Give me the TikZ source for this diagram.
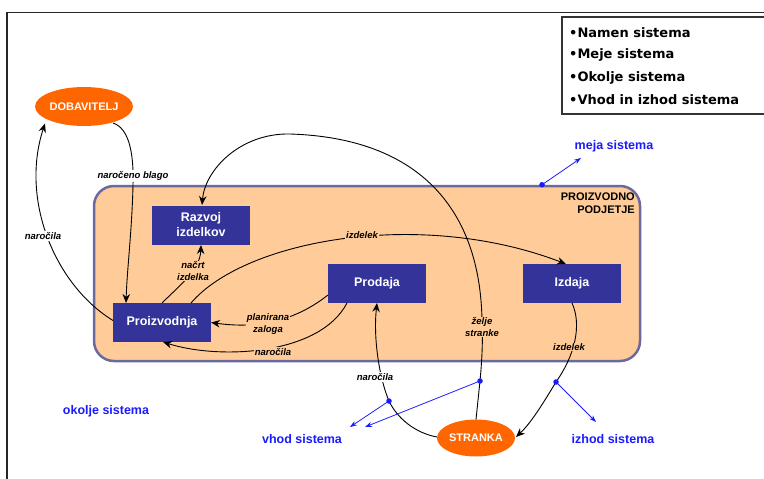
\documentclass[tikz,border=0pt]{standalone}
\usepackage{fontspec}
\setmainfont{Liberation Sans}
\newfontfamily\legfont{DejaVu Sans}
\usetikzlibrary{shapes.geometric,arrows.meta,calc}
\definecolor{peach}{HTML}{FFCC99}
\definecolor{rimcol}{HTML}{6A6AA0}
\definecolor{boxblue}{HTML}{333399}
\definecolor{orng}{HTML}{FF6600}
\definecolor{sysblue}{HTML}{1A1AFF}
\begin{document}
\begin{tikzpicture}[x=1pt,y=-1pt,
  bluebox/.style={fill=boxblue,text=white,font=\bfseries\fontsize{12.5}{15}\selectfont,
    minimum width=98pt,minimum height=39pt,inner sep=0pt,align=center},
  ovalnode/.style={ellipse,fill=orng,text=white,font=\bfseries\fontsize{11}{13}\selectfont,inner sep=0pt},
  lbl/.style={font=\bfseries\itshape\fontsize{9.5}{11.5}\selectfont,fill=peach,inner sep=1pt,align=center},
  lblw/.style={lbl,fill=white},
  syslbl/.style={text=sysblue,font=\bfseries\fontsize{12.5}{15}\selectfont,inner sep=0pt},
  legtext/.style={font=\legfont\bfseries\fontsize{13}{15}\selectfont,inner sep=0pt,anchor=west},
  arr/.style={line width=0.9pt,-{Stealth[length=9pt,width=7.5pt]}},
  barr/.style={draw=sysblue,line width=0.8pt,-{Stealth[length=7pt,width=5pt]}},
  bdot/.style={circle,fill=sysblue,inner sep=0pt,minimum size=5.5pt}]
\useasboundingbox (0,0) rectangle (764,479);
% frame
\draw[line width=1.6pt,black!85] (7,479) -- (7,12.5) -- (764,12.5);
% legend
\draw[line width=1.2pt,black!80] (562,17) rectangle (775,114);
\node[legtext] (l1) at (569,33) {•Namen sistema};
\node[legtext] (l2) at (569,55) {•Meje sistema};
\node[legtext] (l3) at (569,78) {•Okolje sistema};
\node[legtext] (l4) at (569,100) {•Vhod in izhod sistema};
% firm
\node[draw=rimcol,fill=peach,line width=2.5pt,rounded corners=20pt,
  minimum width=546pt,minimum height=175pt,inner sep=0pt] (firm) at (367,273.5) {};
\node[font=\bfseries\fontsize{11}{13}\selectfont,align=right,anchor=east,inner sep=0pt] (pp) at (635,203.5) {PROIZVODNO\\PODJETJE};
% boxes
\node[bluebox] (razvoj) at (201,225) {Razvoj\\izdelkov};
\node[bluebox] (proiz) at (162,322.5) {Proizvodnja};
\node[bluebox] (prodaja) at (377,283.5) {Prodaja};
\node[bluebox] (izdaja) at (572,283.5) {Izdaja};
\node[ovalnode,minimum width=98pt,minimum height=39pt] (dob) at (84,106.5) {DOBAVITELJ};
\node[ovalnode,minimum width=78pt,minimum height=37pt] (stranka) at (476,438) {STRANKA};
% connectors
\draw[arr] ($(proiz)+(-49,-2)$) .. controls (55,285) and (20,200) .. ($(dob)+(-39,17)$);
\draw[arr] ($(dob)+(29,16.5)$) .. controls (128,128) and (134,150) .. (133,185)
  .. controls (132,230) and (127,270) .. ($(proiz)+(-36,-19.5)$);
\draw[arr] ($(proiz)+(0,-19.5)$) .. controls (180,285) and (200,270) .. ($(razvoj)+(0,20)$);
\draw[arr] ($(proiz)+(29,-19.5)$) .. controls (245,240) and (420,208) .. ($(izdaja)+(-6,-19.5)$);
\draw[arr] ($(prodaja)+(-49,11.5)$) .. controls (290,325) and (250,328) .. ($(proiz)+(49,0)$);
\draw[arr] ($(prodaja)+(-30,19.5)$) .. controls (320,355) and (220,360) .. ($(proiz)+(1,19.5)$);
\draw[arr] ($(stranka)+(0,-18.5)$) -- (480,381) coordinate (d2)
  .. controls (482,360) and (483,340) .. (482,320)
  .. controls (480,210) and (420,138) .. (290,134)
  .. controls (240,133) and (205,170) .. ($(razvoj)+(1,-20)$);
\draw[arr] ($(izdaja)+(0,19.5)$) .. controls (582,325) and (575,355) .. (556,382) coordinate (d3)
  .. controls (545,400) and (532,422) .. ($(stranka)+(40,-1)$);
\draw[arr] ($(stranka)+(-39,-1)$) .. controls (415,433) and (397,418) .. (389,401) coordinate (d1)
  .. controls (380,380) and (373,340) .. ($(prodaja)+(0,19.5)$);
% system arrows
\coordinate (dm) at ($(firm.north)+(175,0)$);
\coordinate (mt) at (581,158);
\coordinate (v1) at (350,427);
\coordinate (v2) at (365,427);
\coordinate (iz1) at (596,422);
\draw[barr] (dm) -- (mt);
\draw[barr] (d1) -- (v1);
\draw[barr] (d2) -- (v2);
\draw[barr] (d3) -- (iz1);
\node[bdot] (bd0) at (dm) {};
\node[bdot] (bd1) at (d1) {};
\node[bdot] (bd2) at (d2) {};
\node[bdot] (bd3) at (d3) {};
% labels
\node[lblw] (lb1) at (133,176) {naročeno blago};
\node[lblw] (lb2) at (43,236) {naročila};
\node[lbl] (lb3) at (193,271) {načrt\\izdelka};
\node[lbl] (lb4) at (362,235) {izdelek};
\node[lbl] (lb5) at (268,324) {planirana\\zaloga};
\node[lbl] (lb6) at (273,352) {naročila};
\node[lbl] (lb7) at (482,327) {želje\\stranke};
\node[lbl] (lb8) at (569,347) {izdelek};
\node[lblw] (lb9) at (375,377) {naročila};
\node[syslbl] (ms) at (614,146) {meja sistema};
\node[syslbl] (os) at (106,411) {okolje sistema};
\node[syslbl] (vs) at (302,439) {vhod sistema};
\node[syslbl] (is) at (613,439) {izhod sistema};
\end{tikzpicture}
\end{document}
